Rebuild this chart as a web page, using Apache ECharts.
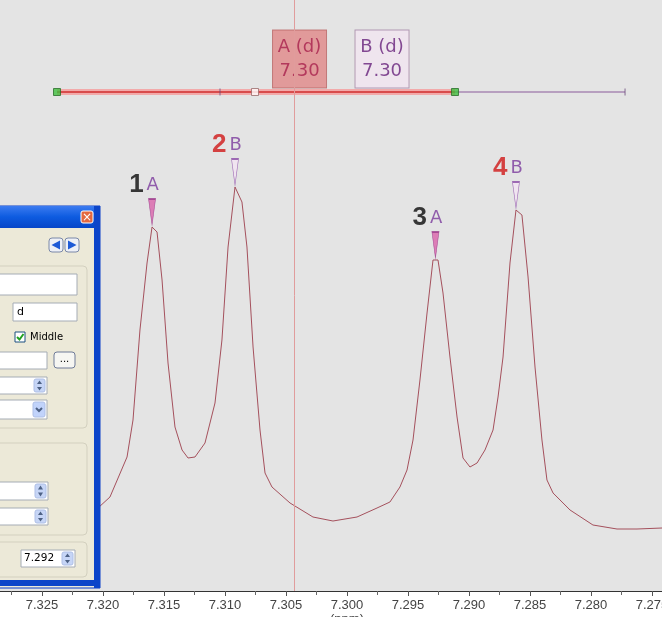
<!DOCTYPE html>
<html><head><meta charset="utf-8">
<script src="https://cdn.jsdelivr.net/npm/echarts@6/dist/echarts.min.js"></script>
<style>html,body{margin:0;padding:0;background:#fff}#c{width:662px;height:617px}</style>
</head><body><div id="c"></div>
<script>
// ---- spectrum (chemical shift in ppm, intensity in a.u.) ----
const ppm = [7.32352, 7.32189, 7.32041, 7.31943, 7.31803, 7.31754, 7.31697, 7.31639, 7.31598, 7.31557,
  7.31516, 7.31467, 7.31410, 7.31352, 7.31303, 7.31246, 7.31164, 7.31082, 7.31025, 7.30975,
  7.30918, 7.30861, 7.30820, 7.30770, 7.30713, 7.30672, 7.30615, 7.30467, 7.30279, 7.30115,
  7.29918, 7.29754, 7.29648, 7.29566, 7.29508, 7.29459, 7.29402, 7.29344, 7.29295, 7.29254,
  7.29213, 7.29156, 7.29098, 7.29049, 7.28992, 7.28934, 7.28869, 7.28803, 7.28762, 7.28721,
  7.28664, 7.28615, 7.28566, 7.28516, 7.28459, 7.28402, 7.28361, 7.28311, 7.28172, 7.27984,
  7.27787, 7.27623, 7.27418, 7.27352];
const intensity = [63, 71, 83, 94, 134, 171, 261, 328, 364, 359,
  311, 228, 164, 141, 133, 134, 148, 188, 251, 344,
  404, 389, 344, 244, 161, 118, 104, 88, 74, 70,
  74, 83, 89, 104, 121, 151, 211, 278, 331, 331,
  298, 234, 174, 133, 124, 128, 141, 161, 194, 234,
  328, 381, 376, 314, 224, 151, 111, 98, 81, 66,
  62, 62, 63, 63];

// ---- picked peaks ----
const peakPpm = [7.31598, 7.30918, 7.29275, 7.28615];
const peakIntensity = [364, 404, 331, 381];
const peakNumbers = ['1', '2', '3', '4'];
const peakMultiplets = ['A', 'B', 'A', 'B'];

// ---- multiplet annotations ----
const multipletNames = ['A (d)', 'B (d)'];
const multipletShifts = ['7.30', '7.30'];
const multipletLabelPpm = [7.30389, 7.29713];
const multipletLabelIntensity = 532;
const rangeIntensity = 499;
const rangePpm = [7.32377, 7.29115];      // selected range (handles)
const rangeMidPpm = 7.30754;              // middle handle
const rangeTickPpm = 7.31041;
const rangeExtensionPpm = [7.29115, 7.27721];
const cursorPpm = 7.3043;

// ---- x axis ticks ----
const xMin = 7.270, xMax = 7.330, xStep = 0.005;

const chart = echarts.init(document.getElementById('c'), null, {renderer: 'canvas'});
const FONT = 'Liberation Sans';

const spectrum = ppm.map((p, i) => [p, intensity[i]]);
const peaks = peakPpm.map((p, i) => ({
  value: [p, peakIntensity[i]],
  num: peakNumbers[i], mult: peakMultiplets[i],
  itemStyle: peakMultiplets[i] === 'A'
    ? {color: '#d963aa', borderColor: '#9b3c8c', borderWidth: 1}
    : {color: '#f3e3f3', borderColor: '#8a4aa6', borderWidth: 1}
}));
const boxes = multipletLabelPpm.map((p, i) => ({
  value: [p, multipletLabelIntensity],
  name: multipletNames[i], shift: multipletShifts[i],
  itemStyle: i === 0 ? {color: '#e08787', borderColor: '#b86464', borderWidth: 1}
                     : {color: '#f1e5f0', borderColor: '#a284a4', borderWidth: 1},
  label: {color: i === 0 ? '#a8204c' : '#66207a'}
}));

// dialog (UI chrome drawn on top)
const els = [];
const Z = 200;
const R = (x, y, w, h, fill, stroke, r, lw) => els.push({type: 'rect', z: Z, shape: {x, y, width: w, height: h, r: r || 0},
  style: {fill: fill || 'none', stroke: stroke || null, lineWidth: lw || 1}});
const T = (x, y, text, size, color, align) => els.push({type: 'text', z: Z + 1, x, y,
  style: {text, fontSize: size, fill: color || '#000', fontFamily: 'DejaVu Sans', textVerticalAlign: 'middle', textAlign: align || 'left'}});
const P = (pts, fill) => els.push({type: 'polygon', z: Z + 1, shape: {points: pts}, style: {fill}});
const L = (pts, stroke) => els.push({type: 'polyline', z: Z + 1, shape: {points: pts}, style: {stroke, lineWidth: 2, fill: null}});
const spin = (x, y, h) => { R(x, y, 11, h, '#c6d5f6', '#aebfe6', 2); P([[x + 3, y + h/2 - 1.5], [x + 8, y + h/2 - 1.5], [x + 5.5, y + 1.5]], '#4d6185'); P([[x + 3, y + h/2 + 1.5], [x + 8, y + h/2 + 1.5], [x + 5.5, y + h - 1.5]], '#4d6185'); };

R(-6, 206, 106, 382, '#ece9d8', '#0b3fc8', 0, 0);
R(-6, 206, 106, 22, new echarts.graphic.LinearGradient(0, 0, 0, 1, [{offset: 0, color: '#3b7bf0'}, {offset: 0.5, color: '#0d5be0'}, {offset: 1, color: '#0746c8'}]));
R(94, 206, 6, 382, '#0c45c9');
R(-6, 580, 106, 6, '#0c45c9');
R(81, 211, 12, 12, '#e4683f', '#ffffff', 2);
T(87, 217.5, '×', 12, '#fff', 'center');
// navigation buttons
R(49, 238, 14, 14, '#eef0f6', '#7a88a8', 3); P([[60, 240.5], [51.5, 245], [60, 249.5]], '#1e5ad6');
R(65, 238, 14, 14, '#eef0f6', '#7a88a8', 3); P([[68, 240.5], [76.5, 245], [68, 249.5]], '#1e5ad6');
// group 1
R(-6, 266, 93, 162, null, '#d3d0bf', 4);
R(-2, 274, 79, 21, '#fff', '#a5acb5');
R(13, 303, 64, 18, '#fff', '#a5acb5'); T(17, 312, 'd', 11, '#000');
R(15, 332, 10, 10, '#fff', '#1c5180');
L([[17, 337], [19.5, 339.5], [23.5, 334]], '#21a121');
T(30, 337.5, 'Middle', 10, '#000');
R(-2, 352, 49, 17, '#fff', '#a5acb5');
R(54, 352, 21, 16, '#f6f6f2', '#6f7b98', 3); T(64.5, 359, '...', 10, '#000', 'center');
R(-2, 377, 49, 17, '#fff', '#a5acb5'); spin(34, 379, 13);
R(-2, 400, 49, 19, '#fff', '#a5acb5'); R(33, 402, 12, 15, '#c1d3fb', '#aebfe6', 2);
L([[36, 408], [39, 411], [42, 408]], '#4d6185');
// group 2
R(-6, 443, 93, 92, null, '#d3d0bf', 4);
R(-2, 482, 50, 18, '#fff', '#a5acb5'); spin(35, 484, 14);
R(-2, 508, 50, 17, '#fff', '#a5acb5'); spin(35, 510, 13);
// group 3
R(-6, 542, 93, 35, null, '#d3d0bf', 4);
R(21, 550, 54, 17, '#fff', '#a5acb5'); T(24, 558.5, '7.292', 10.5, '#000'); spin(62, 552, 13);

chart.setOption({
  animation: false,
  backgroundColor: '#ffffff',
  grid: {left: -19, right: -51, top: 0, bottom: 26, show: true, backgroundColor: '#e4e4e4', borderWidth: 0,
    outerBoundsMode: 'none', containLabel: false},
  xAxis: {
    type: 'value', inverse: true, min: xMin, max: xMax, interval: xStep,
    name: '(ppm)', nameLocation: 'middle', nameGap: 22, nameMoveOverlap: false,
    nameTextStyle: {fontFamily: FONT, fontSize: 13, color: '#444'},
    axisLine: {show: true, onZero: false, lineStyle: {color: '#333', width: 1}},
    axisTick: {show: true, length: 5, lineStyle: {color: '#555'}},
    minorTick: {show: true, splitNumber: 2, length: 4, lineStyle: {color: '#666'}},
    splitLine: {show: false},
    axisLabel: {fontFamily: FONT, fontSize: 13, color: '#444', margin: 8,
      formatter: v => v.toFixed(3)}
  },
  yAxis: {type: 'value', show: false, min: 0, max: 591, splitLine: {show: false}, axisLine: {show: false}},
  graphic: els.map(e => Object.assign(e, {zlevel: 1})),
  series: [
    {
      type: 'line', data: spectrum, symbol: 'none', z: 3,
      lineStyle: {color: '#a4505c', width: 1},
      markLine: {silent: true, symbol: 'none', precision: 6, label: {show: false}, z: 10,
        lineStyle: {color: '#e09c9c', width: 1, type: 'solid', opacity: 1},
        emphasis: {disabled: true},
        data: [{xAxis: cursorPpm}]}
    },
    { // multiplet range: halo
      type: 'line', data: rangePpm.map(p => [p, rangeIntensity]), symbol: 'none', z: 4,
      lineStyle: {color: '#f2aaaa', width: 6}
    },
    {
      type: 'line', data: rangePpm.map(p => [p, rangeIntensity]), symbol: 'none', z: 5,
      lineStyle: {color: '#d84c4c', width: 2}
    },
    {
      type: 'line', data: rangeExtensionPpm.map(p => [p, rangeIntensity]), symbol: 'none', z: 4,
      lineStyle: {color: '#8a5a9a', width: 1}
    },
    { // small ticks on the range line
      type: 'scatter', z: 6, symbol: 'rect', symbolSize: [1, 7],
      itemStyle: {color: '#6a4a7a'},
      data: [[rangeTickPpm, rangeIntensity], [rangeExtensionPpm[1], rangeIntensity]]
    },
    { // range handles
      type: 'scatter', z: 7, symbol: 'rect', symbolSize: 7,
      data: [
        {value: [rangePpm[0], rangeIntensity], itemStyle: {color: '#3fbf3f', borderColor: '#2a6e2a', borderWidth: 1}},
        {value: [rangePpm[1], rangeIntensity], itemStyle: {color: '#3fbf3f', borderColor: '#2a6e2a', borderWidth: 1}},
        {value: [rangeMidPpm, rangeIntensity], itemStyle: {color: '#ffffff', borderColor: '#9a6a6a', borderWidth: 1}}
      ]
    },
    { // multiplet label boxes
      type: 'scatter', z: 5, symbol: 'rect', symbolSize: [54, 58], data: boxes,
      label: {show: true, position: 'inside', fontFamily: 'DejaVu Sans', fontSize: 18, lineHeight: 24,
        formatter: p => p.data.name + '\n' + p.data.shift}
    },
    { // peak markers
      type: 'scatter', z: 8, symbol: 'path://M0,0L10,0L5,36Z', symbolSize: [7, 26], symbolOffset: [0, -15],
      data: peaks,
      label: {show: true, position: 'top', distance: 1, offset: [-8, 0],
        formatter: p => '{' + (p.data.num === '2' || p.data.num === '4' ? 'r' : 'k') + '|' + p.data.num + '}{m|' + p.data.mult + '}',
        rich: {
          k: {fontFamily: FONT, fontSize: 26, fontWeight: 'bold', color: '#0a0a0a', padding: [0, 3, 0, 0], lineHeight: 24},
          r: {fontFamily: FONT, fontSize: 26, fontWeight: 'bold', color: '#d01818', padding: [0, 3, 0, 0], lineHeight: 24},
          m: {fontFamily: 'DejaVu Sans', fontSize: 18, color: '#7a3a9c', lineHeight: 24}
        }}
    }
  ]
});
</script></body></html>
